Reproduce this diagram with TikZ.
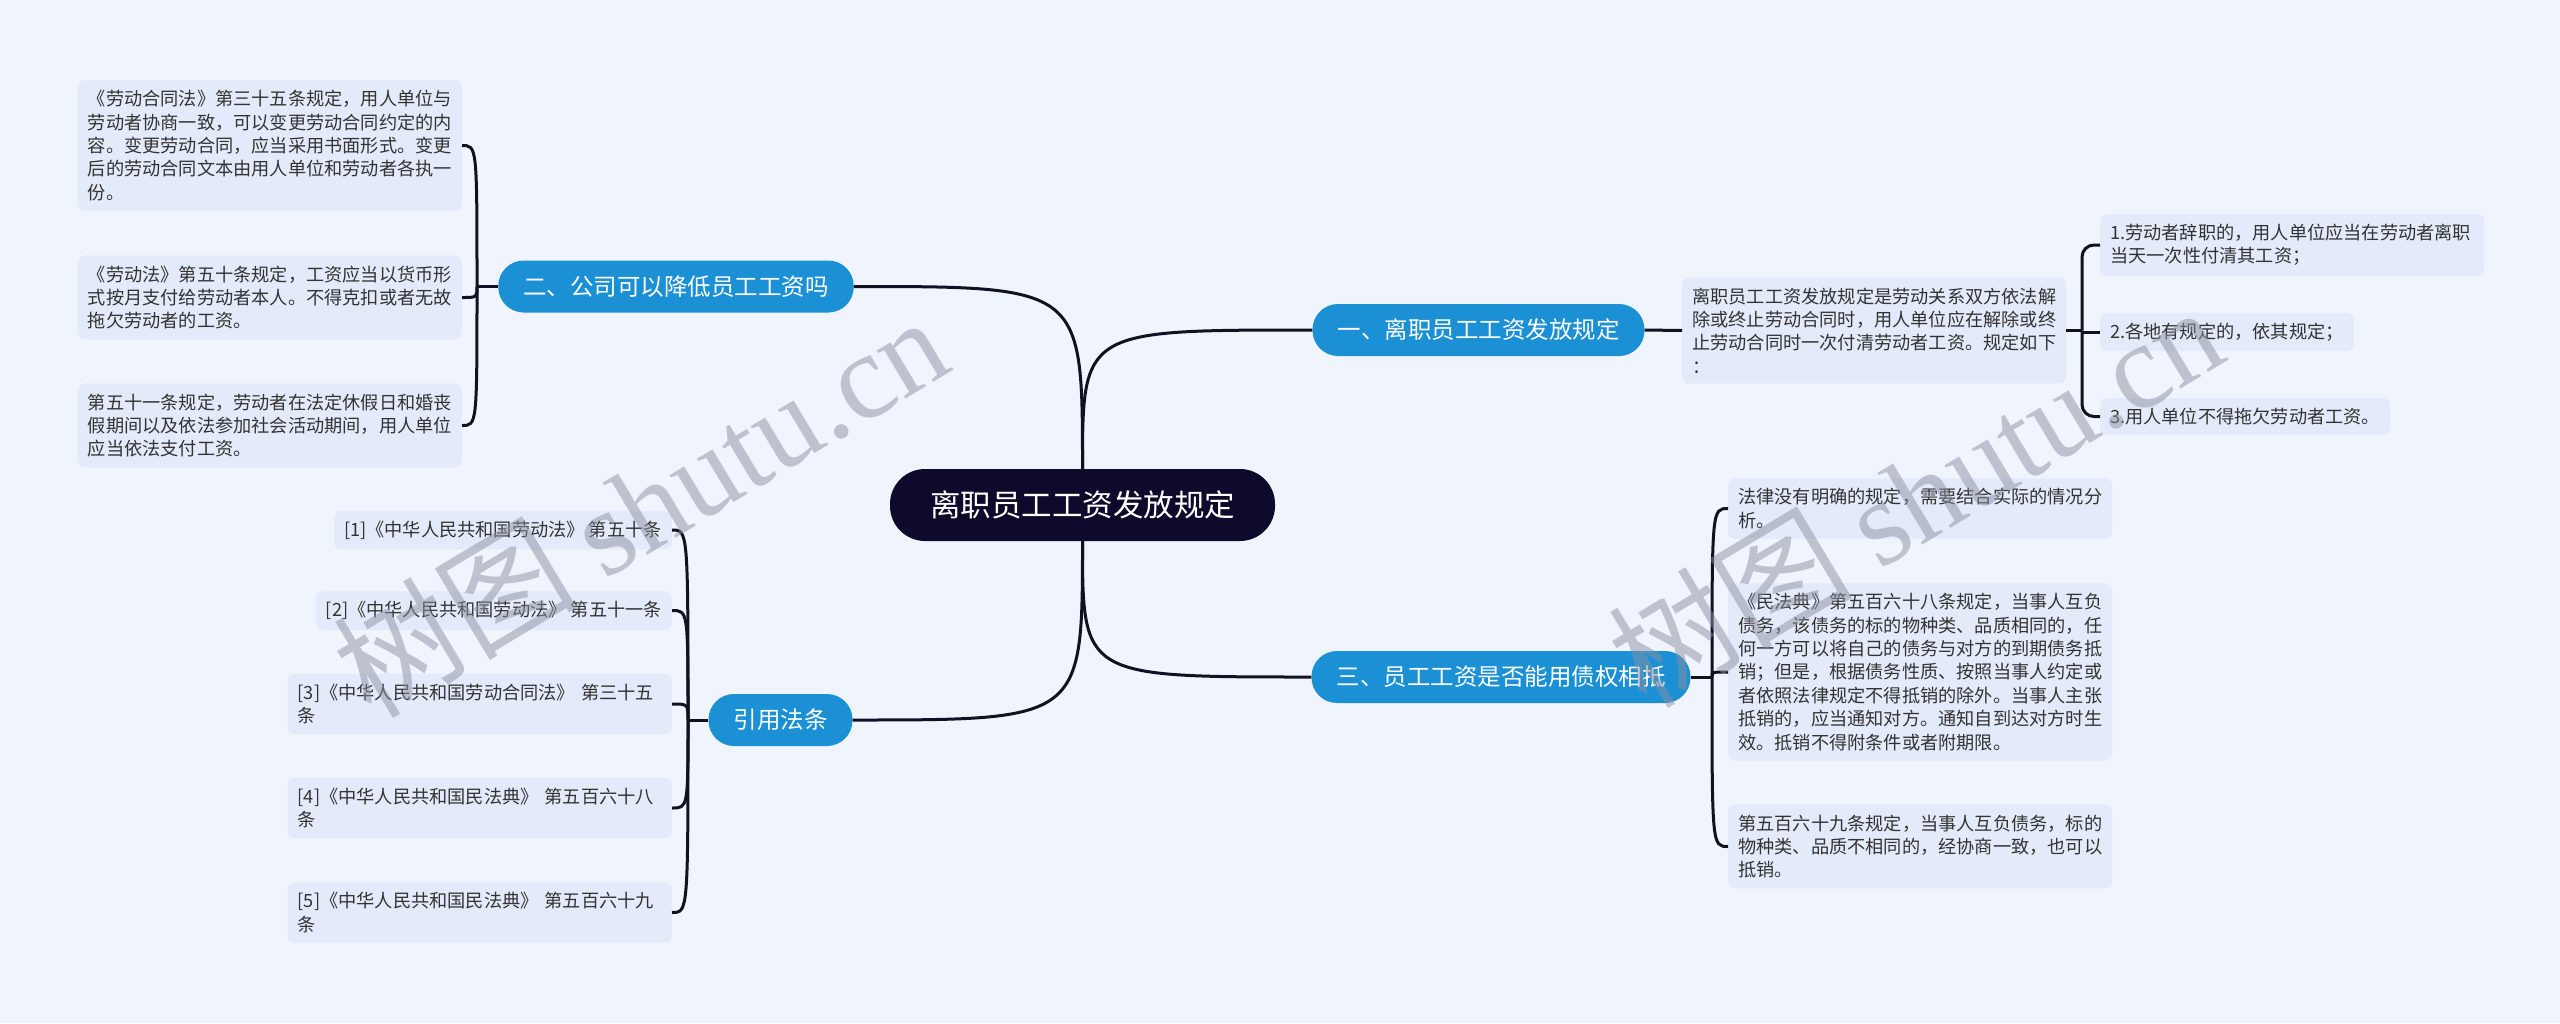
\documentclass[tikz,border=0pt]{standalone}
\usepackage{fontspec}
\setmainfont{Noto Sans CJK SC}
\newfontfamily\wmserif{Liberation Serif}
\definecolor{bgc}{RGB}{239,244,253}
\definecolor{leafc}{RGB}{227,235,250}
\definecolor{bluec}{RGB}{27,144,212}
\definecolor{rootc}{RGB}{14,10,44}
\definecolor{txtc}{RGB}{51,51,51}
\definecolor{linec}{RGB}{17,17,34}
\definecolor{wmc}{RGB}{140,145,160}
\begin{document}
\begin{tikzpicture}[x=1pt,y=-1pt,
  rootnode/.style={fill=rootc, text=white, rounded corners=35pt, minimum height=72pt, inner xsep=40pt, inner ysep=0pt, font=\fontsize{30.5pt}{36pt}\selectfont},
  branch/.style={fill=bluec, text=white, rounded corners=25.5pt, minimum height=52pt, inner xsep=25pt, inner ysep=0pt, font=\fontsize{23.5pt}{28pt}\selectfont},
  leaf/.style={fill=leafc, text=txtc, rounded corners=7pt, inner xsep=10pt, inner ysep=10pt, align=left, font=\fontsize{18.2pt}{23.4pt}\selectfont},
  wide/.style={leaf, text width=364pt},
  link/.style={draw=linec, line width=3pt},
  wm/.style={rotate=31, text=wmc, opacity=0.5, font=\fontsize{122pt}{122pt}\selectfont}
]
\useasboundingbox (0,0) rectangle (2560,1023);
\fill[bgc] (0,0) rectangle (2560,1023);

% root and branches
\node[rootnode] (root) at (1082.5,505) {离职员工工资发放规定};
\node[branch] (b1) at (1478.5,330) {一、离职员工工资发放规定};
\node[branch] (b2) at (676,286.5) {二、公司可以降低员工工资吗};
\node[branch] (b3) at (1501,677) {三、员工工资是否能用债权相抵};
\node[branch] (b4) at (780.5,720) {引用法条};

% branch 1
\node[wide, anchor=west] (k1) at (1682,330.5) {离职员工工资发放规定是劳动关系双方依法解\\除或终止劳动合同时，用人单位应在解除或终\\止劳动合同时一次付清劳动者工资。规定如下\\：};
\node[wide, anchor=west] (g1) at (2100,245) {1.劳动者辞职的，用人单位应当在劳动者离职\\当天一次性付清其工资；};
\node[leaf, anchor=west] (g2) at (2100,332) {2.各地有规定的，依其规定；};
\node[leaf, anchor=west] (g3) at (2100,416.5) {3.用人单位不得拖欠劳动者工资。};

% branch 2
\node[wide, anchor=east] (a1) at (462,145.5) {《劳动合同法》第三十五条规定，用人单位与\\劳动者协商一致，可以变更劳动合同约定的内\\容。变更劳动合同，应当采用书面形式。变更\\后的劳动合同文本由用人单位和劳动者各执一\\份。};
\node[wide, anchor=east] (a2) at (462,297.5) {《劳动法》第五十条规定，工资应当以货币形\\式按月支付给劳动者本人。不得克扣或者无故\\拖欠劳动者的工资。};
\node[wide, anchor=east] (a3) at (462,425.5) {第五十一条规定，劳动者在法定休假日和婚丧\\假期间以及依法参加社会活动期间，用人单位\\应当依法支付工资。};

% branch 3
\node[wide, anchor=west] (t1) at (1728,508.5) {法律没有明确的规定，需要结合实际的情况分\\析。};
\node[wide, anchor=west] (t2) at (1728,672) {《民法典》第五百六十八条规定，当事人互负\\债务，该债务的标的物种类、品质相同的，任\\何一方可以将自己的债务与对方的到期债务抵\\销；但是，根据债务性质、按照当事人约定或\\者依照法律规定不得抵销的除外。当事人主张\\抵销的，应当通知对方。通知自到达对方时生\\效。抵销不得附条件或者附期限。};
\node[wide, anchor=west] (t3) at (1728,846.5) {第五百六十九条规定，当事人互负债务，标的\\物种类、品质不相同的，经协商一致，也可以\\抵销。};

% branch 4
\node[leaf, anchor=east] (r1) at (672,530) {[1]《中华人民共和国劳动法》 第五十条};
\node[leaf, anchor=east] (r2) at (672,610.5) {[2]《中华人民共和国劳动法》 第五十一条};
\node[wide, anchor=east] (r3) at (672,704) {[3]《中华人民共和国劳动合同法》 第三十五\\条};
\node[wide, anchor=east] (r4) at (672,808) {[4]《中华人民共和国民法典》 第五百六十八\\条};
\node[wide, anchor=east] (r5) at (672,912.5) {[5]《中华人民共和国民法典》 第五百六十九\\条};

% main connectors
\draw[link] (root.north) .. controls (root.north |- b1.west) .. (b1.west);
\draw[link] (root.north) .. controls (root.north |- b2.east) .. (b2.east);
\draw[link] (root.south) .. controls (root.south |- b3.west) .. (b3.west);
\draw[link] (root.south) .. controls (root.south |- b4.east) .. (b4.east);

% branch 1 connectors
\draw[link] (b1.east) -- (k1.west);
\coordinate (j1) at (2082,330.5);
\draw[link] (k1.east) -- (j1);
\draw[link, rounded corners=12pt] (j1) |- (g1.west);
\draw[link] (j1) -- (j1 |- g2.west) -- (g2.west);
\draw[link, rounded corners=12pt] (j1) |- (g3.west);

% branch 2 connectors
\coordinate (j2) at (477,286.5);
\draw[link] (b2.west) -- (j2);
\foreach \c in {a1,a2,a3} \draw[link] (j2) .. controls (j2 |- \c.east) .. (\c.east);

% branch 3 connectors
\coordinate (j3) at (1712,677);
\draw[link] (b3.east) -- (j3);
\foreach \c in {t1,t2,t3} \draw[link] (j3) .. controls (j3 |- \c.west) .. (\c.west);

% branch 4 connectors
\coordinate (j4) at (688,720);
\draw[link] (b4.west) -- (j4);
\foreach \c in {r1,r2,r3,r4,r5} \draw[link] (j4) .. controls (j4 |- \c.east) .. (\c.east);

% watermarks
\node[wm] (wm1) at (640,505) {树图 {\wmserif shutu.cn}};
\node[wm] (wm2) at (1915,495) {树图 {\wmserif shutu.cn}};
\end{tikzpicture}
\end{document}
